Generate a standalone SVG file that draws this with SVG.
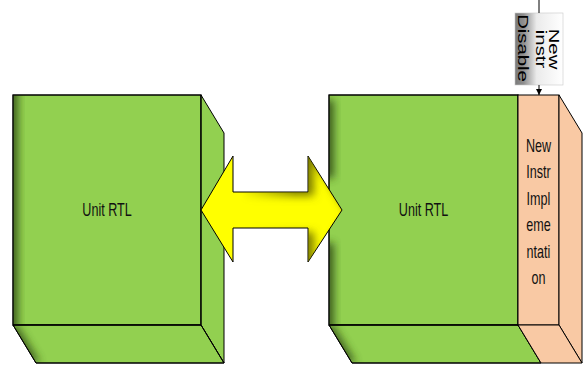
<svg xmlns="http://www.w3.org/2000/svg" width="584" height="368" viewBox="0 0 584 368">
  <style>
    .face { fill: #92d050; stroke: #000; stroke-width: 1; stroke-linejoin: miter; }
    .impl { fill: #f9c9a4; stroke: #000; stroke-width: 1; }
    .lbl { font-family: "Liberation Sans", Arial, sans-serif; font-size: 18px; fill: #111; text-anchor: middle; }
    .tag { font-family: "Liberation Sans", Arial, sans-serif; font-size: 14px; fill: #000; text-anchor: middle; }
    .wire { stroke: #000; stroke-width: 1; fill: none; }
  </style>
  <defs>
    <filter id="soft" x="-50%" y="-20%" width="200%" height="140%">
      <feGaussianBlur stdDeviation="4"/>
    </filter>
    <filter id="innerShade" x="-10%" y="-10%" width="120%" height="120%">
      <feOffset in="SourceAlpha" dx="6" dy="4" result="off"/>
      <feGaussianBlur in="off" stdDeviation="4" result="blur"/>
      <feComposite in="SourceAlpha" in2="blur" operator="out" result="inv"/>
      <feFlood flood-color="#5e5e00" flood-opacity="0.8"/>
      <feComposite in2="inv" operator="in"/>
    </filter>
    <linearGradient id="shadeFade" gradientUnits="userSpaceOnUse" x1="240" y1="0" x2="295" y2="0">
      <stop offset="0" stop-color="#fff" stop-opacity="0"/>
      <stop offset="1" stop-color="#fff" stop-opacity="1"/>
    </linearGradient>
    <mask id="shadeMask" maskUnits="userSpaceOnUse" x="190" y="140" width="170" height="140">
      <rect x="190" y="140" width="170" height="140" fill="url(#shadeFade)"/>
    </mask>
    <linearGradient id="tagFill" x1="0" y1="0" x2="1" y2="0">
      <stop offset="0" stop-color="#7a7a7a"/>
      <stop offset="0.18" stop-color="#8e8e8e"/>
      <stop offset="0.45" stop-color="#ebebeb"/>
      <stop offset="1" stop-color="#ffffff"/>
    </linearGradient>
    <clipPath id="frontA"><rect x="13" y="95" width="188" height="230"/></clipPath>
    <clipPath id="bottomA"><polygon points="13,325 201,325 224,363 36,363"/></clipPath>
    <clipPath id="frontB"><rect x="329" y="95" width="189" height="230"/></clipPath>
    <clipPath id="bottomB"><polygon points="329,325 518,325 541,363 352,363"/></clipPath>
    <marker id="tip" viewBox="0 0 8 8" refX="8" refY="4" markerWidth="6" markerHeight="6" orient="auto" markerUnits="userSpaceOnUse">
      <path d="M0,0 L8,4 L0,8 z" fill="#000"/>
    </marker>
  </defs>

  <!-- left unit block -->
  <g id="unit-rtl-left">
    <rect class="face" x="13" y="95" width="188" height="230"/>
    <polygon class="face" points="201,95 224,133 224,363 201,325"/>
    <polygon class="face" points="13,325 201,325 224,363 36,363"/>
    <g clip-path="url(#frontA)">
      <rect x="4" y="80" width="14" height="260" fill="#2f4a15" opacity="0.85" filter="url(#soft)"/>
    </g>
    <g clip-path="url(#bottomA)">
      <polygon points="4,325 17,325 40,363 27,363" fill="#2f4a15" opacity="0.85" filter="url(#soft)"/>
    </g>
    <rect x="13" y="95" width="188" height="230" fill="none" stroke="#000"/>
    <polygon points="13,325 201,325 224,363 36,363" fill="none" stroke="#000"/>
    <text class="lbl" transform="translate(107,216) scale(0.7,1)" x="0" y="0">Unit RTL</text>
  </g>

  <!-- right unit block with the new implementation slice -->
  <g id="unit-rtl-right">
    <rect class="face" x="329" y="95" width="189" height="230"/>
    <polygon class="face" points="329,325 518,325 541,363 352,363"/>
    <g clip-path="url(#frontB)">
      <rect x="320" y="100" width="14" height="78" fill="#2f4a15" opacity="0.85" filter="url(#soft)"/>
      <rect x="320" y="243" width="14" height="100" fill="#2f4a15" opacity="0.85" filter="url(#soft)"/>
    </g>
    <g clip-path="url(#bottomB)">
      <polygon points="320,325 333,325 356,363 343,363" fill="#2f4a15" opacity="0.85" filter="url(#soft)"/>
    </g>
    <rect x="329" y="95" width="189" height="230" fill="none" stroke="#000"/>
    <polygon points="329,325 518,325 541,363 352,363" fill="none" stroke="#000"/>
    <text class="lbl" transform="translate(423.5,216) scale(0.7,1)" x="0" y="0">Unit RTL</text>
  </g>

  <g id="new-instr-impl">
    <rect class="impl" x="518" y="95" width="41" height="230"/>
    <polygon class="impl" points="559,95 582,133 582,363 559,325"/>
    <polygon class="impl" points="518,325 559,325 582,363 541,363"/>
    <g class="lbl">
      <text transform="translate(538.5,152) scale(0.7,1)">New</text>
      <text transform="translate(538.5,178) scale(0.7,1)">Instr</text>
      <text transform="translate(538.5,205) scale(0.7,1)">Impl</text>
      <text transform="translate(538.5,231) scale(0.7,1)">eme</text>
      <text transform="translate(538.5,258) scale(0.7,1)">ntati</text>
      <text transform="translate(538.5,284) scale(0.7,1)">on</text>
    </g>
  </g>

  <g id="new-instr-disable">
    <rect x="515" y="13" width="48" height="72" fill="url(#tagFill)" stroke="#c8c8c8" stroke-width="0.6"/>
    <g class="tag">
      <text transform="translate(549,49) rotate(90) scale(1.45,1)">New</text>
      <text transform="translate(536,49) rotate(90) scale(1.45,1)">instr</text>
      <text transform="translate(518,48) rotate(90) scale(1.45,1)">Disable</text>
    </g>
  </g>

  <g id="connectors">
    <line class="wire" x1="539" y1="0" x2="539" y2="13"/>
    <line class="wire" x1="539" y1="85" x2="539" y2="95" marker-end="url(#tip)"/>
    <g id="link-arrow">
      <polygon points="201,210 233,156 233,192 308,192 308,156 342,210 308,262 308,228 233,228 233,262"
               fill="#ffff00" stroke="#000" stroke-width="1" stroke-linejoin="miter"/>
      <g mask="url(#shadeMask)">
        <polygon points="201,210 233,156 233,192 308,192 308,156 342,210 308,262 308,228 233,228 233,262"
                 fill="#ffff00" filter="url(#innerShade)"/>
      </g>
    </g>
  </g>
</svg>
